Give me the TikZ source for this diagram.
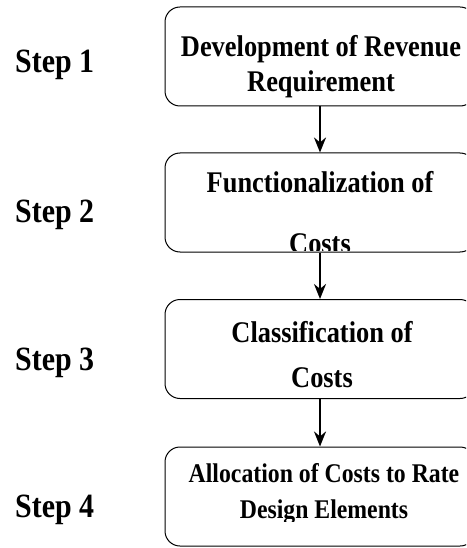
\documentclass[tikz,border=0pt]{standalone}
\usepackage{fontspec}
\setmainfont{Liberation Serif}[FakeStretch=0.88]
\usetikzlibrary{arrows.meta}
\tikzset{
  stepbox/.style={draw=black, line width=1pt, rounded corners=15pt,
    minimum width=310pt, minimum height=99pt, inner sep=0pt},
  steptext/.style={font=\fontsize{30}{35}\selectfont\bfseries, align=center,
    inner sep=0pt, anchor=base},
  steplabel/.style={font=\fontsize{34}{40}\selectfont\bfseries, inner sep=0pt,
    anchor=base west},
  flow/.style={line width=2.2pt, -{Stealth[length=15pt,width=12pt]}}
}
\begin{document}
\begin{tikzpicture}[x=1pt,y=-1pt]
	\useasboundingbox (0,0) rectangle (466,548);
	\clip (0,0) rectangle (466,548);
	% boxes
	\node[stepbox] (b1) at (320,56.5) {};
	\node[stepbox] (b2) at (320,202.5) {};
	\node[stepbox] (b3) at (320,349) {};
	\node[stepbox] (b4) at (320,496.5) {};
	% texts (anchored at the baseline of the last line)
	\node[steptext] (t1) at (321,92) {Development of Revenue\\Requirement};
	\begin{scope}
		\clip (165,150) rectangle (475,250);
		\node[steptext] (t2) at (320,253) {Functionalization of\\[26pt]Costs};
	\end{scope}
	\node[steptext] (t3) at (322,387) {Classification of\\[10pt]Costs};
	\begin{scope}
		\clip (165,440) rectangle (475,521);
		\node[steptext, font=\fontsize{27}{36}\selectfont\bfseries] (t4) at (324,518) {Allocation of Costs to Rate\\Design Elements};
	\end{scope}
	% step labels
	\node[steplabel] (s1) at (15,73) {Step 1};
	\node[steplabel] (s2) at (15,222) {Step 2};
	\node[steplabel] (s3) at (15,370) {Step 3};
	\node[steplabel] (s4) at (15,517) {Step 4};
	% arrows
	\draw[flow] (b1) -- (b2);
	\draw[flow] (b2) -- (b3);
	\draw[flow] (b3) -- (b4);
\end{tikzpicture}
\end{document}
